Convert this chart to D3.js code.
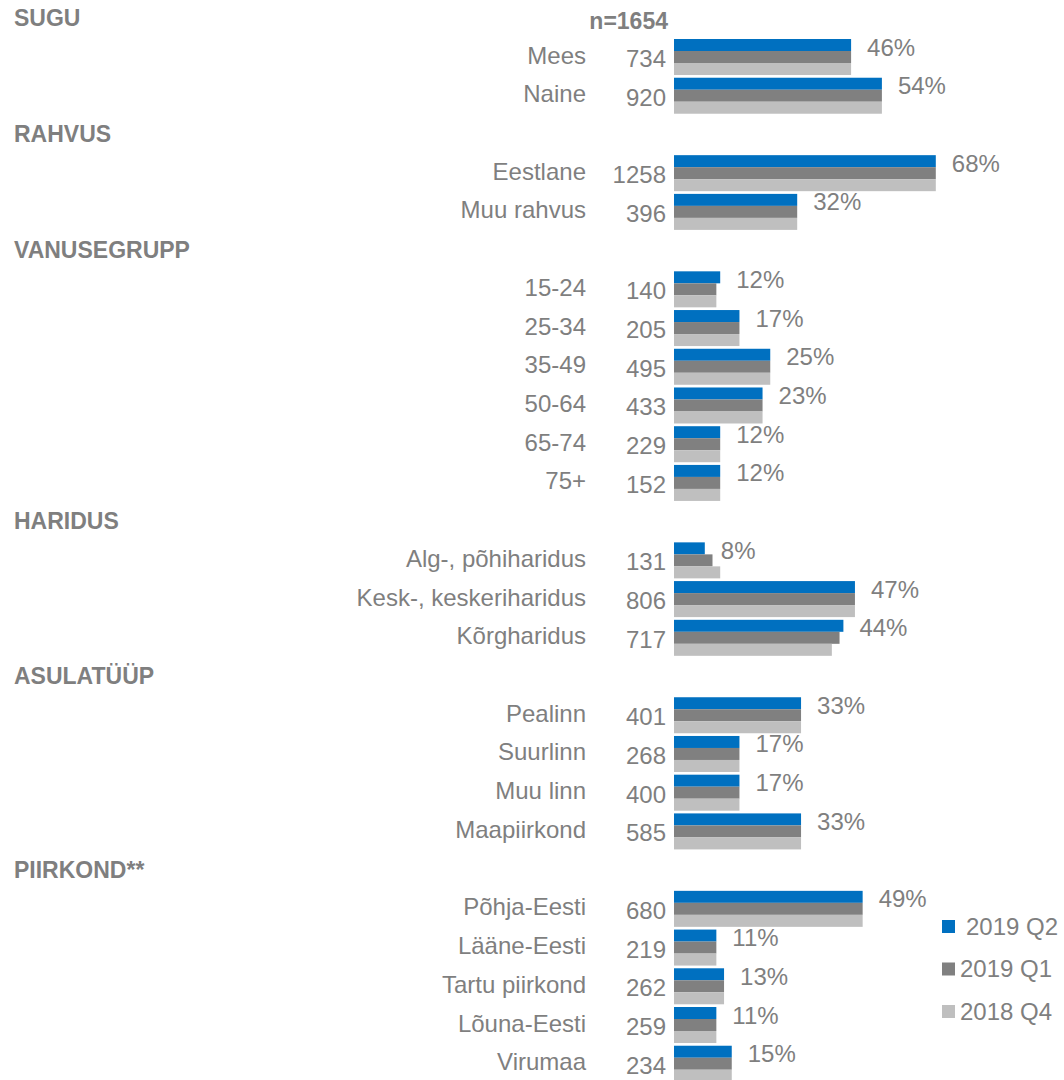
<!DOCTYPE html>
<html>
<head>
<meta charset="utf-8">
<script src="https://cdn.jsdelivr.net/npm/d3@7"></script>
<style>
  html, body { margin: 0; padding: 0; background: #ffffff; }
  svg { display: block; font-family: "Liberation Sans", Arial, sans-serif; }
</style>
</head>
<body>
<svg id="chart" width="1064" height="1080"></svg>
<script>
// ---- data ----
const sections = ["SUGU", "RAHVUS", "VANUSEGRUPP", "HARIDUS", "ASULATÜÜP", "PIIRKOND**"];
const categories = ["Mees", "Naine", "Eestlane", "Muu rahvus", "15-24", "25-34", "35-49", "50-64", "65-74", "75+",
  "Alg-, põhiharidus", "Kesk-, keskeriharidus", "Kõrgharidus", "Pealinn", "Suurlinn", "Muu linn", "Maapiirkond",
  "Põhja-Eesti", "Lääne-Eesti", "Tartu piirkond", "Lõuna-Eesti", "Virumaa"];
const sectionOf = [0, 0, 1, 1, 2, 2, 2, 2, 2, 2, 3, 3, 3, 4, 4, 4, 4, 5, 5, 5, 5, 5];
const counts = [734, 920, 1258, 396, 140, 205, 495, 433, 229, 152, 131, 806, 717, 401, 268, 400, 585, 680, 219, 262, 259, 234];
const seriesNames = ["2019 Q2", "2019 Q1", "2018 Q4"];
const q2_2019 = [46, 54, 68, 32, 12, 17, 25, 23, 12, 12, 8, 47, 44, 33, 17, 17, 33, 49, 11, 13, 11, 15];
const q1_2019 = [46, 54, 68, 32, 11, 17, 25, 23, 12, 12, 10, 47, 43, 33, 17, 17, 33, 49, 11, 13, 11, 15];
const q4_2018 = [46, 54, 68, 32, 11, 17, 25, 23, 12, 12, 12, 47, 41, 33, 17, 17, 33, 49, 11, 13, 11, 15];
const sampleLabel = "n=1654";

// ---- build rows ----
const colors = ["#0070C0", "#808080", "#BFBFBF"];
const seriesValues = [q2_2019, q1_2019, q4_2018];
const rows = [];
sections.forEach((s, si) => {
  rows.push({ key: "h" + si, type: "header", label: s });
  categories.forEach((c, ci) => {
    if (sectionOf[ci] === si) rows.push({ key: "c" + ci, type: "item", label: c, idx: ci });
  });
});

const svg = d3.select("#chart");
const textColor = "#7f7f7f";

const y = d3.scaleBand()
  .domain(rows.map(r => r.key))
  .range([-1.07, -1.07 + rows.length * 38.72])
  .paddingInner(0.07)
  .paddingOuter(0.035);

const ySeries = d3.scaleBand().domain(d3.range(3)).range([0, y.bandwidth()]);

const x = d3.scaleLinear().domain([0, 100]).range([674, 674 + 385]);

// headers
svg.append("g").selectAll("text")
  .data(rows.filter(r => r.type === "header"))
  .join("text")
  .attr("x", 14)
  .attr("y", d => y(d.key) + 25.5)
  .attr("fill", textColor)
  .attr("font-weight", "bold")
  .attr("font-size", 23)
  .text(d => d.label);

// sample size
svg.append("text")
  .attr("x", 668)
  .attr("y", y(rows[0].key) + 28.5)
  .attr("text-anchor", "end")
  .attr("fill", textColor)
  .attr("font-weight", "bold")
  .attr("font-size", 23)
  .text(sampleLabel);

const items = rows.filter(r => r.type === "item");

// category labels
svg.append("g").selectAll("text")
  .data(items)
  .join("text")
  .attr("x", 586)
  .attr("y", d => y(d.key) + 24.5)
  .attr("text-anchor", "end")
  .attr("fill", textColor)
  .attr("font-size", 24)
  .text(d => d.label);

// counts
svg.append("g").selectAll("text")
  .data(items)
  .join("text")
  .attr("x", 666)
  .attr("y", d => y(d.key) + 28)
  .attr("text-anchor", "end")
  .attr("fill", textColor)
  .attr("font-size", 24)
  .text(d => counts[d.idx]);

// bars
const barG = svg.append("g");
seriesValues.forEach((vals, si) => {
  barG.append("g").selectAll("rect")
    .data(items)
    .join("rect")
    .attr("x", x(0))
    .attr("y", d => y(d.key) + ySeries(si))
    .attr("width", d => x(vals[d.idx]) - x(0))
    .attr("height", ySeries.bandwidth())
    .attr("fill", colors[si]);
});

// percentage labels (2019 Q2)
svg.append("g").selectAll("text")
  .data(items)
  .join("text")
  .attr("x", d => x(q2_2019[d.idx]) + 16)
  .attr("y", d => y(d.key) + 16.5)
  .attr("fill", textColor)
  .attr("font-size", 24)
  .text(d => q2_2019[d.idx] + "%");

// legend
const legend = svg.append("g");
seriesNames.forEach((name, i) => {
  const ly = 920 + i * 42.5;
  legend.append("rect")
    .attr("x", 942).attr("y", ly)
    .attr("width", 13).attr("height", 13)
    .attr("fill", colors[i]);
  legend.append("text")
    .attr("x", i === 0 ? 966 : 960)
    .attr("y", ly + 14.5)
    .attr("fill", textColor)
    .attr("font-size", 24)
    .text(name);
});
</script>
</body>
</html>
